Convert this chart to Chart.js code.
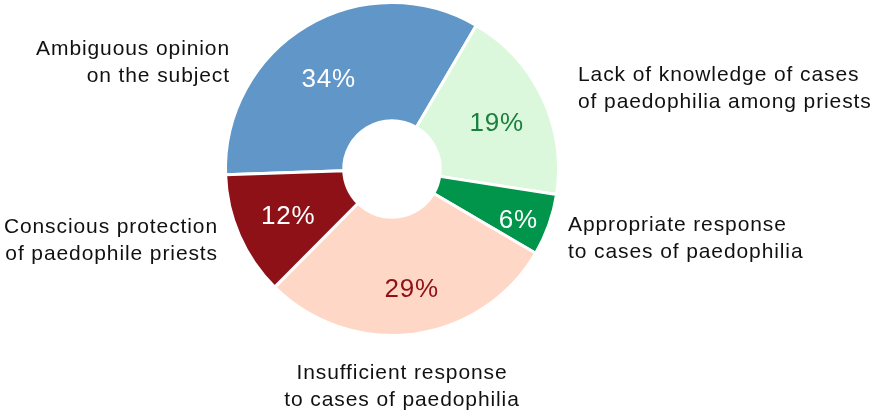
<!DOCTYPE html>
<html>
<head>
<meta charset="utf-8">
<script src="https://cdn.jsdelivr.net/npm/chart.js@4"></script>
<style>
  html, body { margin:0; padding:0; background:#fff; }
  #wrap { width:870px; height:412px; position:relative; }
</style>
</head>
<body>
<div id="wrap"><canvas id="pie"></canvas></div>
<script>
// ── DATA ──
const categories = [
  ['Ambiguous opinion', 'on the subject'],
  ['Lack of knowledge of cases', 'of paedophilia among priests'],
  ['Appropriate response', 'to cases of paedophilia'],
  ['Insufficient response', 'to cases of paedophilia'],
  ['Conscious protection', 'of paedophile priests']
];
const shares = [34, 19, 6, 29, 12];

// ── STYLE ──
const sliceColors = ['#6096c8', '#dcf8dc', '#00954a', '#ffd7c6', '#8e1118'];
const pctColors   = ['#ffffff', '#1b7f3e', '#ffffff', '#8e1118', '#ffffff'];
const pctRadius   = [0.53, 0.565, 0.74, 0.61, 0.55];   // fraction across the ring
const pctAngleTweak = [-4, 1, 2, -2, 0];               // degrees
// outer label anchors, relative to pie centre
const outerPos = [
  { dx:-162, dy:-120, align:'right'  },
  { dx: 186, dy: -94, align:'left'   },
  { dx: 176, dy:  56, align:'left'   },
  { dx:  10, dy: 204, align:'center' },
  { dx:-174, dy:  58, align:'right'  }
];
const FONT = '"Liberation Sans", Arial, sans-serif';

const labelsPlugin = {
  id: 'labelsPlugin',
  afterDatasetsDraw(chart) {
    const ctx  = chart.ctx;
    const meta = chart.getDatasetMeta(0);
    ctx.save();
    ctx.textBaseline = 'middle';
    meta.data.forEach((arc, i) => {
      const p   = arc.getProps(['x','y','startAngle','endAngle','innerRadius','outerRadius'], true);
      const mid = (p.startAngle + p.endAngle) / 2 + pctAngleTweak[i] * Math.PI / 180;
      const r   = p.innerRadius + (p.outerRadius - p.innerRadius) * pctRadius[i];
      ctx.font = '26px ' + FONT;
      ctx.letterSpacing = '0.8px';
      ctx.fillStyle = pctColors[i];
      ctx.textAlign = 'center';
      ctx.fillText(shares[i] + '%', p.x + Math.cos(mid) * r, p.y + Math.sin(mid) * r + 2);

      // category label outside
      const o = outerPos[i];
      ctx.font = '21px ' + FONT;
      ctx.letterSpacing = '0.9px';
      ctx.fillStyle = '#111';
      ctx.textAlign = o.align;
      categories[i].forEach((line, k) => {
        ctx.fillText(line, p.x + o.dx, p.y + o.dy + k * 27.5);
      });
    });
    ctx.restore();
  }
};

new Chart(document.getElementById('pie'), {
  type: 'doughnut',
  data: {
    labels: categories.map(c => c.join(' ')),
    datasets: [{
      data: shares,
      backgroundColor: sliceColors,
      borderColor: '#ffffff',
      borderWidth: 3,
      hoverOffset: 0
    }]
  },
  options: {
    responsive: true,
    maintainAspectRatio: false,
    animation: false,
    rotation: -92,
    cutout: '29%',
    layout: { padding: { left:224, right:310, top:1, bottom:75 } },
    plugins: {
      legend:  { display:false },
      tooltip: { enabled:false }
    }
  },
  plugins: [labelsPlugin]
});
</script>
</body>
</html>
